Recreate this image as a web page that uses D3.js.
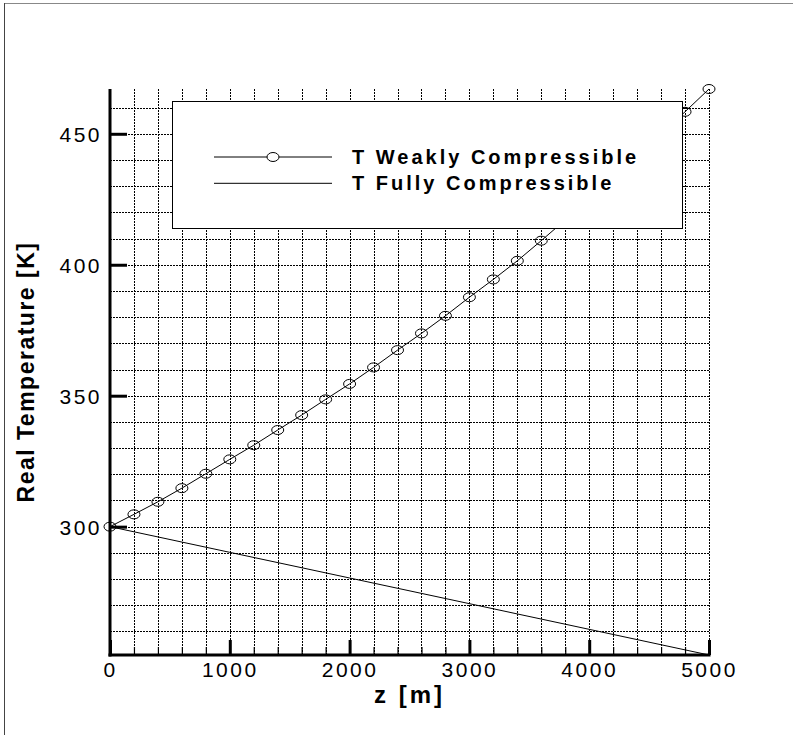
<!DOCTYPE html>
<meta charset="utf-8">
<style>
  body { margin: 0; background: #fff; }
  text { font-family: "Liberation Sans", Arial, Helvetica, sans-serif; fill: #000; }
  .tick text { font-size: 21px; letter-spacing: 2.5px; }
  .grid line { stroke: #000; stroke-width: 1; stroke-dasharray: 2,1; shape-rendering: crispEdges; }
  .minor line { stroke: #000; stroke-width: 1.2; }
  .major line { stroke: #000; stroke-width: 3; }
  .axis-title { font-weight: bold; }
  .legend-label { font-size: 20px; font-weight: bold; letter-spacing: 3px; }
</style>

<script src="https://cdn.jsdelivr.net/npm/d3@7"></script>

<div id="chart"></div>

<script>
// data: z [m] vs real temperature [K]
var zWeak = [0, 200, 400, 600, 800, 1000, 1200, 1400, 1600, 1800, 2000, 2200, 2400,
             2600, 2800, 3000, 3200, 3400, 3600, 3800, 4000, 4200, 4400, 4600, 4800, 5000];
var tWeak = [300, 304.7, 309.5, 314.7, 320.2, 325.7, 331.1, 336.9, 342.6, 348.6, 354.5, 360.8, 367.4,
             373.8, 380.5, 387.6, 394.4, 401.5, 409.2, 417.1, 425.1, 433.3, 441.5, 449.9, 458.4, 467.1];
var zFull = [0, 1000, 2000, 3000, 4000, 5000];
var tFull = [300, 290.2, 280.4, 270.6, 260.8, 251.0];

var seriesNames = ["T Weakly Compressible", "T Fully Compressible"];

var xMajorTicks = [0, 1000, 2000, 3000, 4000, 5000];
var xMinorTicks = [200, 400, 600, 800, 1200, 1400, 1600, 1800, 2200, 2400, 2600, 2800,
                   3200, 3400, 3600, 3800, 4200, 4400, 4600, 4800];
var xGridTicks = [200, 400, 600, 800, 1000, 1200, 1400, 1600, 1800, 2000, 2200, 2400, 2600, 2800,
                  3000, 3200, 3400, 3600, 3800, 4000, 4200, 4400, 4600, 4800, 5000];
var yMajorTicks = [300, 350, 400, 450];
var yGridTicks = [260, 270, 280, 290, 300, 310, 320, 330, 340, 350, 360, 370, 380, 390,
                  400, 410, 420, 430, 440, 450, 460];
var xTitle = "z [m]";
var yTitle = "Real Temperature [K]";

// page and plot dimensions
var W = 793, H = 735;
var margin = {top: 89, right: 84, bottom: 80, left: 110},
  width = W - margin.left - margin.right,
  height = H - margin.top - margin.bottom;

var root = d3.select("#chart")
  .append("svg")
    .attr("width", W)
    .attr("height", H)
    .style("display", "block");

root.append("rect").attr("width", W).attr("height", H).attr("fill", "#fff");

// outer frame (only top and left edges are visible)
root.append("line").attr("x1", 4).attr("x2", W).attr("y1", 3.5).attr("y2", 3.5)
  .attr("stroke", "#888").attr("stroke-width", 1);
root.append("line").attr("x1", 4.5).attr("x2", 4.5).attr("y1", 3).attr("y2", H)
  .attr("stroke", "#444").attr("stroke-width", 1);

var svg = root.append("g")
  .attr("transform", "translate(" + margin.left + "," + margin.top + ")");

var x = d3.scaleLinear().domain([0, 5000]).range([0, width]);
var y = d3.scaleLinear().domain([251, 467.1]).range([height, 0]);

// dotted grid
svg.append("g")
  .attr("class", "grid")
  .attr("transform", "translate(0," + height + ")")
  .call(d3.axisBottom(x).tickValues(xGridTicks).tickSize(-height).tickFormat(""))
  .call(function(g) { g.select(".domain").remove(); });

svg.append("g")
  .attr("class", "grid")
  .call(d3.axisLeft(y).tickValues(yGridTicks).tickSize(-width).tickFormat(""))
  .call(function(g) { g.select(".domain").remove(); });

// series
var lineWeak = d3.line()
  .x(function(d, i) { return x(zWeak[i]); })
  .y(function(d) { return y(d); });
var lineFull = d3.line()
  .x(function(d, i) { return x(zFull[i]); })
  .y(function(d) { return y(d); });

svg.append("path")
  .attr("d", lineFull(tFull))
  .attr("fill", "none").attr("stroke", "#000").attr("stroke-width", 1);

svg.append("path")
  .attr("d", lineWeak(tWeak))
  .attr("fill", "none").attr("stroke", "#000").attr("stroke-width", 1);

svg.selectAll(".marker")
  .data(tWeak)
  .enter()
  .append("ellipse")
    .attr("class", "marker")
    .attr("cx", function(d, i) { return x(zWeak[i]); })
    .attr("cy", function(d) { return y(d); })
    .attr("rx", 6).attr("ry", 4.5)
    .attr("fill", "none").attr("stroke", "#000").attr("stroke-width", 1);

// minor ticks on x
svg.append("g")
  .attr("class", "minor")
  .attr("transform", "translate(0," + height + ")")
  .call(d3.axisBottom(x).tickValues(xMinorTicks).tickSize(-8).tickFormat(""))
  .call(function(g) { g.select(".domain").remove(); });

// major ticks + labels
svg.append("g")
  .attr("class", "major")
  .attr("transform", "translate(0," + height + ")")
  .call(d3.axisBottom(x).tickValues(xMajorTicks).tickSizeInner(-15).tickSizeOuter(0).tickPadding(7).tickFormat(d3.format("d")))
  .call(function(g) { g.select(".domain").remove(); })
  .selectAll("text").attr("font-size", null).attr("font-family", null);

svg.append("g")
  .attr("class", "major")
  .call(d3.axisLeft(y).tickValues(yMajorTicks).tickSizeInner(-17).tickSizeOuter(0).tickPadding(8).tickFormat(d3.format("d")))
  .call(function(g) { g.select(".domain").remove(); })
  .selectAll("text").attr("font-size", null).attr("font-family", null).attr("dy", "0.36em");

// thick axis lines
svg.append("line")
  .attr("x1", x(0)).attr("x2", x(0)).attr("y1", 0).attr("y2", height + 1.5)
  .attr("stroke", "#000").attr("stroke-width", 3);
svg.append("line")
  .attr("x1", x(0) - 1.5).attr("x2", x(5000) + 1.5).attr("y1", height).attr("y2", height)
  .attr("stroke", "#000").attr("stroke-width", 3);

// axis titles
svg.append("text")
  .attr("class", "axis-title")
  .attr("x", width / 2)
  .attr("y", height + 48)
  .attr("text-anchor", "middle")
  .style("font-size", "24px")
  .style("letter-spacing", "3px")
  .text(xTitle);

svg.append("text")
  .attr("class", "axis-title")
  .attr("transform", "translate(" + (34 - margin.left) + "," + (height / 2) + ") rotate(-90)")
  .attr("text-anchor", "middle")
  .style("font-size", "23px")
  .style("letter-spacing", "1.5px")
  .text(yTitle);

// legend box
var legend = svg.append("g")
  .attr("transform", "translate(" + (172 - margin.left) + "," + (101 - margin.top) + ")");

legend.append("rect")
  .attr("x", 0.5).attr("y", 0.5)
  .attr("width", 510).attr("height", 127)
  .attr("fill", "#fff").attr("stroke", "#000").attr("stroke-width", 1);

var rows = legend.selectAll(".row")
  .data(seriesNames)
  .enter()
  .append("g")
    .attr("class", "row")
    .attr("transform", function(d, i) { return "translate(0," + (56 + i * 26.3) + ")"; });

rows.append("line")
  .attr("x1", 42).attr("x2", 160).attr("y1", 0).attr("y2", 0)
  .attr("stroke", "#000").attr("stroke-width", 1);

rows.filter(function(d, i) { return i === 0; })
  .append("ellipse")
  .attr("cx", 101).attr("cy", 0).attr("rx", 6).attr("ry", 4.5)
  .attr("fill", "#fff").attr("stroke", "#000").attr("stroke-width", 1);

rows.append("text")
  .attr("class", "legend-label")
  .attr("x", 180)
  .attr("y", 7)
  .text(function(d) { return d; });
</script>
